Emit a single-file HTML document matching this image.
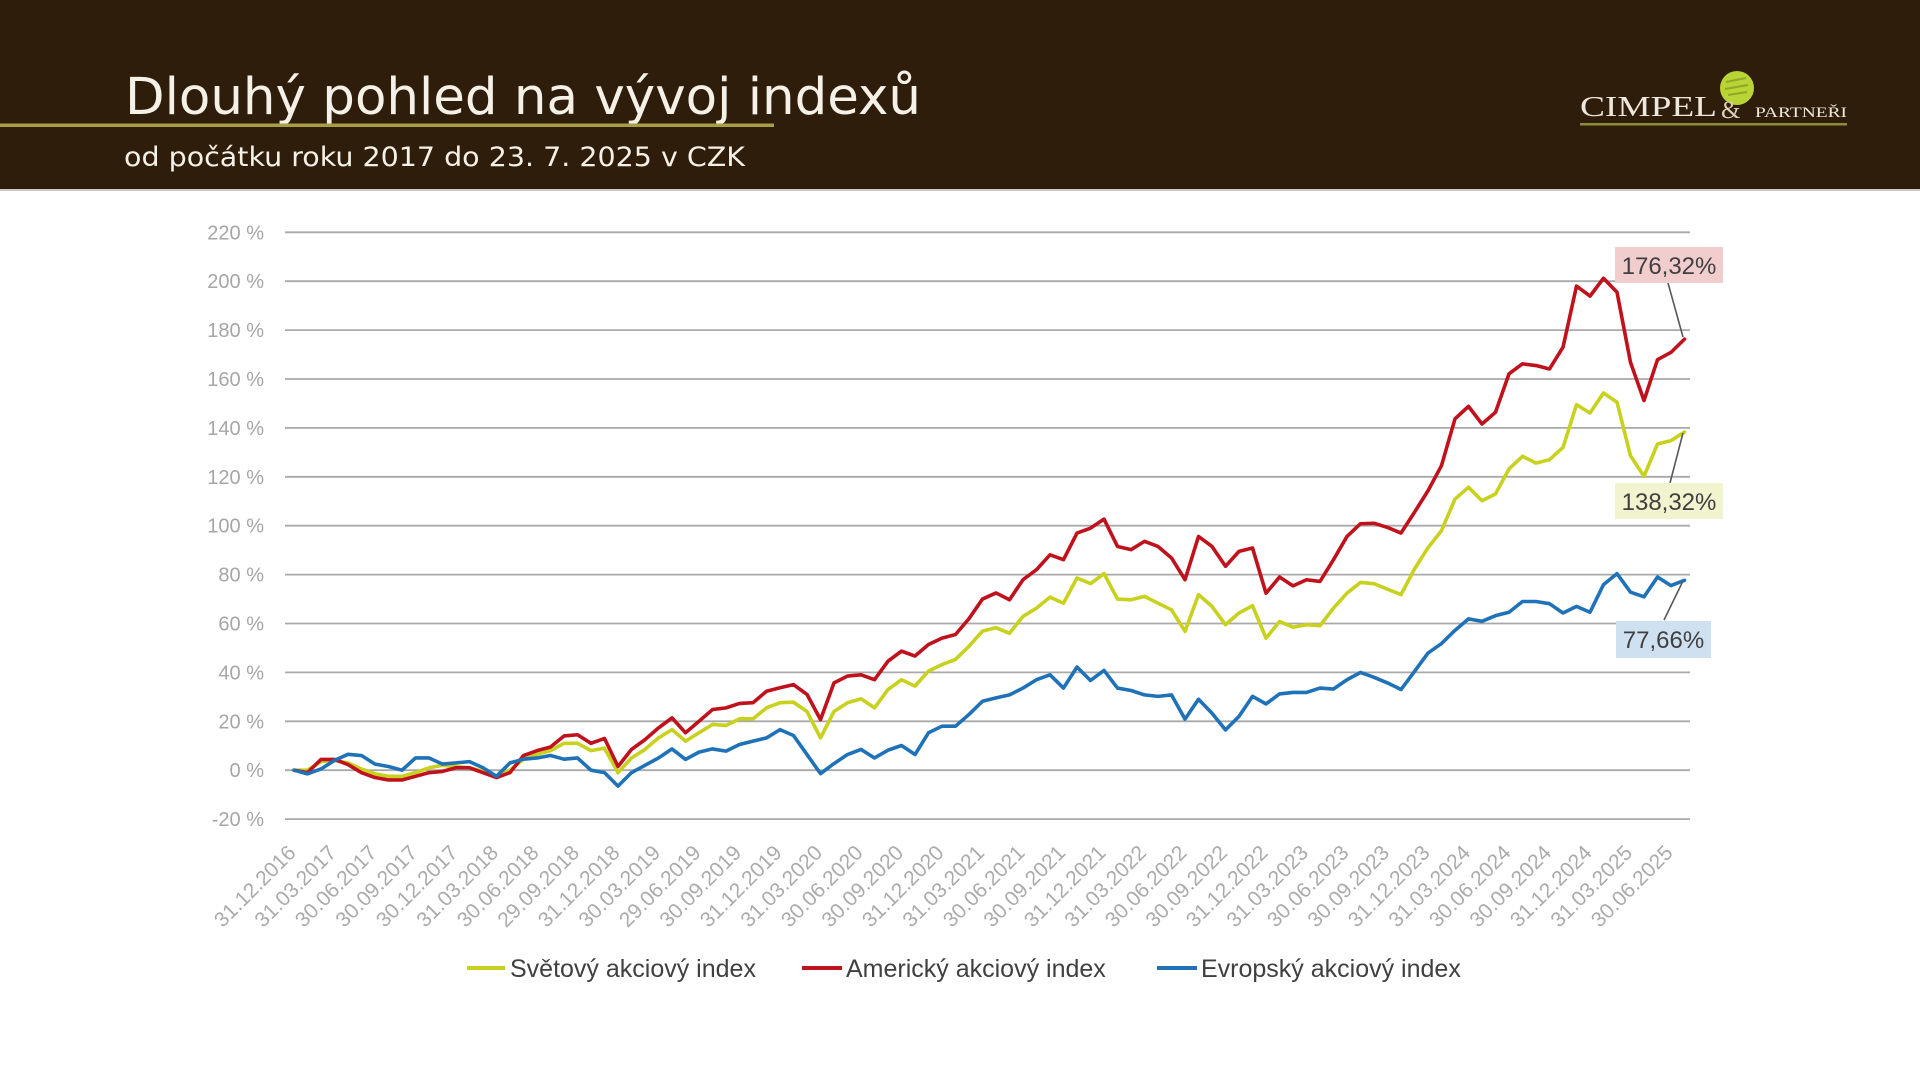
<!DOCTYPE html>
<html>
<head>
<meta charset="utf-8">
<style>
  html,body{margin:0;padding:0;background:#ffffff;}
  body{width:1920px;height:1080px;overflow:hidden;}
  svg{display:block;}
</style>
</head>
<body>
<svg width="1920" height="1080" viewBox="0 0 1920 1080" xmlns="http://www.w3.org/2000/svg">
  <!-- Header -->
  <rect x="0" y="0" width="1920" height="189" fill="#2f1d0c"/>
  <rect x="0" y="189" width="1920" height="2" fill="#cfcac4"/>
  <text x="125" y="114" font-family="DejaVu Sans, 'Liberation Sans', sans-serif" font-size="51" fill="#f6f1e7" textLength="796" lengthAdjust="spacingAndGlyphs">Dlouhý pohled na vývoj indexů</text>
  <rect x="0" y="123.5" width="774" height="3.5" fill="#a89f45"/>
  <text x="124" y="166" font-family="DejaVu Sans, 'Liberation Sans', sans-serif" font-size="27" fill="#f6f1e7" textLength="621" lengthAdjust="spacingAndGlyphs">od počátku roku 2017 do 23. 7. 2025 v CZK</text>

  <!-- Logo -->
  <circle cx="1737" cy="88" r="17" fill="#b9d435"/>
  <path d="M1726 82 L1746 78 M1725 89 L1748 85 M1728 95 L1747 92" stroke="#8fa826" stroke-width="2" fill="none"/>
  <text x="1580" y="116" font-family="'Liberation Serif', serif" font-size="29" fill="#eee8dc" textLength="137" lengthAdjust="spacingAndGlyphs">CIMPEL</text>
  <text x="1721" y="118" font-family="'Liberation Serif', serif" font-size="25" fill="#d9d2b4">&amp;</text>
  <text x="1755" y="117" font-family="'Liberation Serif', serif" font-size="15" fill="#eee8dc" textLength="92" lengthAdjust="spacingAndGlyphs">PARTNEŘI</text>
  <rect x="1580" y="123" width="267" height="2.5" fill="#8d8a3c"/>

  <!-- Gridlines -->
  <g stroke="#a9a9a9" stroke-width="1.8">
    <line x1="285" y1="232.3" x2="1690" y2="232.3"/>
    <line x1="285" y1="281.2" x2="1690" y2="281.2"/>
    <line x1="285" y1="330.1" x2="1690" y2="330.1"/>
    <line x1="285" y1="379.0" x2="1690" y2="379.0"/>
    <line x1="285" y1="427.9" x2="1690" y2="427.9"/>
    <line x1="285" y1="476.8" x2="1690" y2="476.8"/>
    <line x1="285" y1="525.7" x2="1690" y2="525.7"/>
    <line x1="285" y1="574.6" x2="1690" y2="574.6"/>
    <line x1="285" y1="623.5" x2="1690" y2="623.5"/>
    <line x1="285" y1="672.4" x2="1690" y2="672.4"/>
    <line x1="285" y1="721.3" x2="1690" y2="721.3"/>
    <line x1="285" y1="770.2" x2="1690" y2="770.2"/>
    <line x1="285" y1="819.1" x2="1690" y2="819.1"/>
  </g>

  <!-- Y labels -->
  <g font-family="'Liberation Sans', sans-serif" font-size="20" fill="#a6a6a6" text-anchor="end">
    <text x="264" y="239.3">220 %</text>
    <text x="264" y="288.2">200 %</text>
    <text x="264" y="337.1">180 %</text>
    <text x="264" y="386.0">160 %</text>
    <text x="264" y="434.9">140 %</text>
    <text x="264" y="483.8">120 %</text>
    <text x="264" y="532.7">100 %</text>
    <text x="264" y="581.6">80 %</text>
    <text x="264" y="630.5">60 %</text>
    <text x="264" y="679.4">40 %</text>
    <text x="264" y="728.3">20 %</text>
    <text x="264" y="777.2">0 %</text>
    <text x="264" y="826.1">-20 %</text>
  </g>

  <!-- X labels -->
  <g font-family="'Liberation Sans', sans-serif" font-size="21" fill="#ababab" text-anchor="end">
    <text transform="translate(297 854) rotate(-45)">31.12.2016</text>
    <text transform="translate(337.5 854) rotate(-45)">31.03.2017</text>
    <text transform="translate(378 854) rotate(-45)">30.06.2017</text>
    <text transform="translate(418.5 854) rotate(-45)">30.09.2017</text>
    <text transform="translate(459 854) rotate(-45)">30.12.2017</text>
    <text transform="translate(499.5 854) rotate(-45)">31.03.2018</text>
    <text transform="translate(540 854) rotate(-45)">30.06.2018</text>
    <text transform="translate(580.5 854) rotate(-45)">29.09.2018</text>
    <text transform="translate(621 854) rotate(-45)">31.12.2018</text>
    <text transform="translate(661.5 854) rotate(-45)">30.03.2019</text>
    <text transform="translate(702 854) rotate(-45)">29.06.2019</text>
    <text transform="translate(742.5 854) rotate(-45)">30.09.2019</text>
    <text transform="translate(783 854) rotate(-45)">31.12.2019</text>
    <text transform="translate(823.5 854) rotate(-45)">31.03.2020</text>
    <text transform="translate(864 854) rotate(-45)">30.06.2020</text>
    <text transform="translate(904.5 854) rotate(-45)">30.09.2020</text>
    <text transform="translate(945 854) rotate(-45)">31.12.2020</text>
    <text transform="translate(985.5 854) rotate(-45)">31.03.2021</text>
    <text transform="translate(1026 854) rotate(-45)">30.06.2021</text>
    <text transform="translate(1066.5 854) rotate(-45)">30.09.2021</text>
    <text transform="translate(1107 854) rotate(-45)">31.12.2021</text>
    <text transform="translate(1147.5 854) rotate(-45)">31.03.2022</text>
    <text transform="translate(1188 854) rotate(-45)">30.06.2022</text>
    <text transform="translate(1228.5 854) rotate(-45)">30.09.2022</text>
    <text transform="translate(1269 854) rotate(-45)">31.12.2022</text>
    <text transform="translate(1309.5 854) rotate(-45)">31.03.2023</text>
    <text transform="translate(1350 854) rotate(-45)">30.06.2023</text>
    <text transform="translate(1390.5 854) rotate(-45)">30.09.2023</text>
    <text transform="translate(1431 854) rotate(-45)">31.12.2023</text>
    <text transform="translate(1471.5 854) rotate(-45)">31.03.2024</text>
    <text transform="translate(1512 854) rotate(-45)">30.06.2024</text>
    <text transform="translate(1552.5 854) rotate(-45)">30.09.2024</text>
    <text transform="translate(1593 854) rotate(-45)">31.12.2024</text>
    <text transform="translate(1633.5 854) rotate(-45)">31.03.2025</text>
    <text transform="translate(1674 854) rotate(-45)">30.06.2025</text>
  </g>

  <!-- Series -->
  <g transform="translate(294 770.2) scale(13.5 -2.445)" fill="none" stroke-linejoin="round" stroke-linecap="round">
    <polyline vector-effect="non-scaling-stroke" stroke="#c8d21e" stroke-width="3.6" points="0,0 1,0 2,3.5 3,4 4,3 5,0.5 6,-1.5 7,-2.5 8,-2.5 9,-1 10,1 11,2 12,1.5 13,1 14,-0.5 15,-2.5 16,0 17,4.5 18,6.5 19,8 20,11 21,11 22,8 23,9 24,-1 25,5 26,8.5 27,13.2 28,16.6 29,11.9 30,15.3 31,18.7 32,18.3 33,21 34,21 35,25.5 36,27.6 37,27.8 38,24 39,13.2 40,24 41,27.6 42,29.2 43,25.5 44,33 45,37 46,34.4 47,40.5 48,43.2 49,45.3 50,50.7 51,56.9 52,58.3 53,56 54,62.9 55,66.3 56,70.8 57,68.3 58,78.6 59,76.3 60,80.4 61,70 62,69.7 63,71.1 64,68.3 65,65.6 66,56.8 67,71.8 68,67 69,59.5 70,64.3 71,67.3 72,54 73,60.8 74,58.5 75,59.5 76,59.1 77,66.3 78,72.4 79,76.8 80,76.3 81,74 82,71.8 83,82.3 84,91 85,98 86,110.9 87,115.7 88,110.2 89,113 90,123.2 91,128.4 92,125.6 93,127 94,132 95,149.5 96,146.1 97,154.3 98,150.5 99,128.6 100,120.2 101,133.4 102,134.8 103,138.32"/>
    <polyline vector-effect="non-scaling-stroke" stroke="#c0121c" stroke-width="3.6" points="0,0 1,-1 2,4.4 3,4.4 4,2.3 5,-1 6,-3 7,-4 8,-4 9,-2.5 10,-1 11,-0.5 12,1 13,1 14,-1 15,-3 16,-1 17,6 18,8 19,9.5 20,14 21,14.5 22,11 23,13 24,1.5 25,8.5 26,12.5 27,17.3 28,21.4 29,15.3 30,20 31,24.8 32,25.5 33,27.3 34,27.6 35,32.3 36,33.7 37,35 38,31 39,20.7 40,35.7 41,38.5 42,39 43,37 44,44.6 45,48.7 46,46.7 47,51.4 48,54 49,55.5 50,62 51,70 52,72.5 53,69.7 54,77.9 55,82 56,88.1 57,86.1 58,97 59,99 60,102.7 61,91.5 62,90.2 63,93.6 64,91.5 65,86.8 66,77.9 67,95.6 68,91.5 69,83.4 70,89.5 71,90.9 72,72.4 73,79 74,75.4 75,77.9 76,77.2 77,86.1 78,95.6 79,100.8 80,101 81,99.3 82,97 83,105.5 84,114.3 85,124.6 86,143.7 87,148.8 88,141.6 89,146.4 90,162.1 91,166.2 92,165.5 93,164.1 94,173 95,198 96,193.9 97,201.2 98,195.5 99,166.8 100,151.2 101,167.9 102,170.9 103,176.32"/>
    <polyline vector-effect="non-scaling-stroke" stroke="#1f72b8" stroke-width="3.6" points="0,0 1,-1.5 2,0.5 3,4 4,6.5 5,6 6,2.5 7,1.5 8,0 9,5 10,5 11,2.5 12,3 13,3.5 14,1 15,-2.5 16,3 17,4.5 18,5 19,6 20,4.5 21,5 22,0 23,-1 24,-6.5 25,-1 26,2 27,5 28,8.7 29,4.4 30,7.4 31,8.7 32,7.8 33,10.5 34,11.9 35,13.2 36,16.6 37,14.2 38,6.4 39,-1.4 40,2.7 41,6.4 42,8.5 43,5 44,8.2 45,10.1 46,6.4 47,15.3 48,18 49,18 50,22.8 51,28.2 52,29.6 53,30.8 54,33.6 55,37 56,39 57,33.6 58,42.2 59,36.7 60,40.8 61,33.6 62,32.6 63,30.8 64,30.2 65,30.8 66,20.9 67,29 68,23.3 69,16.5 70,22 71,30.2 72,27.1 73,31.2 74,31.8 75,31.8 76,33.6 77,33.2 78,37 79,40 80,38 81,35.7 82,33 83,40.4 84,47.9 85,51.8 86,57.2 87,61.9 88,60.9 89,63.2 90,64.6 91,69 92,69 93,68.1 94,64.3 95,67 96,64.6 97,75.9 98,80.4 99,72.8 100,70.9 101,79 102,75.5 103,77.66"/>
  </g>

  <!-- Annotations -->
  <g stroke="#595959" stroke-width="1.6">
    <line x1="1668" y1="283" x2="1683" y2="337"/>
    <line x1="1670" y1="483" x2="1683" y2="433"/>
    <line x1="1664" y1="620" x2="1683" y2="581"/>
  </g>
  <rect x="1615" y="247" width="108" height="36" fill="#f2cdce"/>
  <text x="1669" y="274" font-family="'Liberation Sans', sans-serif" font-size="24" fill="#404040" text-anchor="middle">176,32%</text>
  <rect x="1615" y="483" width="108" height="36" fill="#f2f3cf"/>
  <text x="1669" y="510" font-family="'Liberation Sans', sans-serif" font-size="24" fill="#404040" text-anchor="middle">138,32%</text>
  <rect x="1616" y="621" width="95" height="37" fill="#cfe0f0"/>
  <text x="1663.5" y="648" font-family="'Liberation Sans', sans-serif" font-size="24" fill="#404040" text-anchor="middle">77,66%</text>

  <!-- Legend -->
  <g stroke-width="4">
    <line x1="467" y1="968" x2="505" y2="968" stroke="#c8d21e"/>
    <line x1="802" y1="968" x2="842" y2="968" stroke="#c0121c"/>
    <line x1="1157" y1="968" x2="1197" y2="968" stroke="#1f72b8"/>
  </g>
  <g font-family="'Liberation Sans', sans-serif" font-size="25" fill="#404040">
    <text x="510" y="977">Světový akciový index</text>
    <text x="846" y="977">Americký akciový index</text>
    <text x="1201" y="977">Evropský akciový index</text>
  </g>
</svg>
</body>
</html>
